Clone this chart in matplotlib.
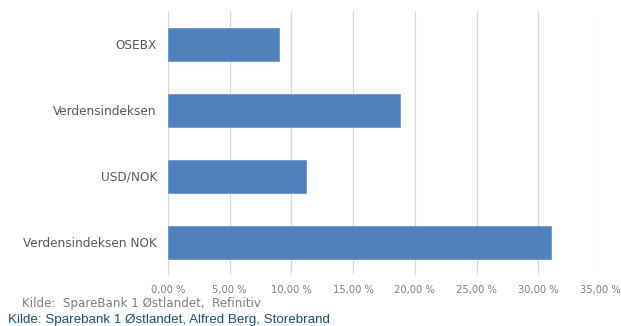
import matplotlib
matplotlib.use("Agg")
import matplotlib.pyplot as plt

# data
categories = ["OSEBX", "Verdensindeksen", "USD/NOK", "Verdensindeksen NOK"]
values = [9.0, 18.8, 11.2, 31.0]
xticks = [0, 5, 10, 15, 20, 25, 30, 35]
xtick_labels = ["0,00 %", "5,00 %", "10,00 %", "15,00 %", "20,00 %",
                "25,00 %", "30,00 %", "35,00 %"]

fig = plt.figure(figsize=(6.21, 3.26), dpi=100)
ax = fig.add_axes([168 / 621, 1 - 275 / 326, (600 - 168) / 621, 264 / 326])

ypos = list(range(len(categories)))
ax.barh(ypos, values, height=0.5, color="#4f81bd", edgecolor="#6f97cc",
        linewidth=0.6, zorder=3)

ax.set_xlim(0, 35)
ax.set_ylim(3.5, -0.5)
ax.set_xticks(xticks)
ax.set_xticklabels(xtick_labels, fontsize=7.2, color="#7f7f7f")
ax.set_yticks(ypos)
ax.set_yticklabels(categories, fontsize=8.7, color="#595959")
ax.tick_params(axis="both", length=0)
ax.tick_params(axis="x", pad=7)
ax.tick_params(axis="y", pad=8)
ax.grid(axis="x", color="#d9d9d9", linewidth=0.9, zorder=0)
for s in ax.spines.values():
    s.set_visible(False)

fig.text(22 / 621, 1 - 303 / 326, "Kilde:  SpareBank 1 Østlandet,  Refinitiv",
         fontsize=8.6, color="#7f7f7f", va="center", ha="left")
fig.text(8 / 621, 1 - 320 / 326, "Kilde: Sparebank 1 Østlandet, Alfred Berg, Storebrand",
         fontsize=9.6, color="#1f4e79", va="center", ha="left",
         family="Liberation Sans")

fig.savefig("out.png", dpi=100)
